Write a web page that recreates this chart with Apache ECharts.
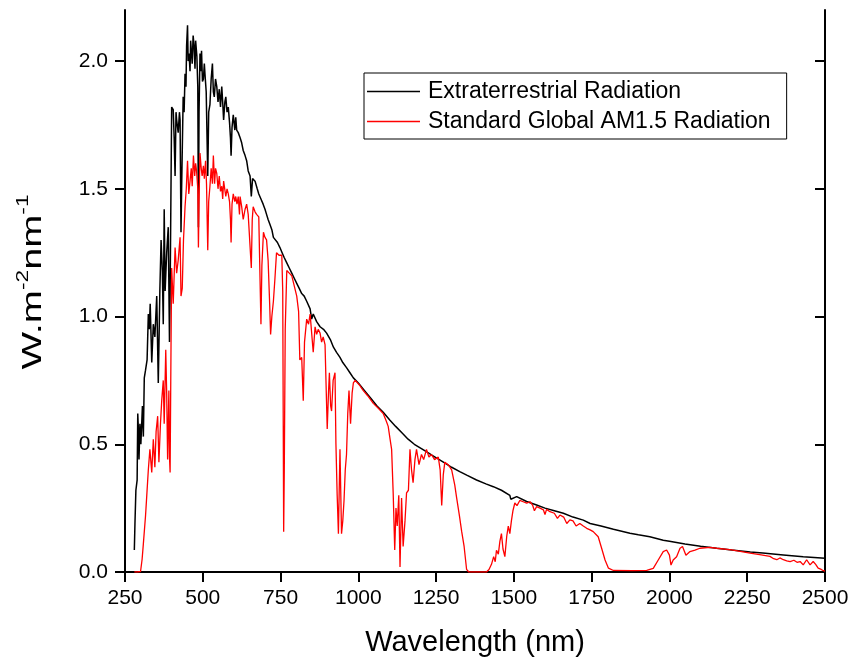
<!DOCTYPE html>
<html>
<head>
<meta charset="utf-8">
<script src="https://cdn.jsdelivr.net/npm/echarts@6/dist/echarts.min.js"></script>
<style>
html,body{margin:0;padding:0;background:#fff;}
#chart{width:855px;height:664px;}
</style>
</head>
<body>
<div id="chart"></div>
<script>
// ---- Data ----
const seriesNames = ['Extraterrestrial Radiation', 'Standard Global AM1.5 Radiation'];

const etrWavelength = [280,282,285,289,291,293,295,298,301,306,309,312,316,321,325,328,331,336,341,346,352,357,362,366,370,373,376,379,384,389,393,395,
400,405,408,411,414,416,421,425,427,430,432,437,440,443,446,448,451,453,456,459,461,466,469,472,475,477,481,484,486,488,491,494,496,499,
502,505,507,511,516,519,523,527,531,534,537,541,545,549,553,557,561,564,567,571,574,578,582,586,589,591,594,598,603,606,609,614,620,625,
630,636,641,646,652,656,660,668,675,680,687,694,700,705,710,716,722,727,732,740,748,755,762,770,778,786,794,802,810,818,826,834,845,850,
855,866,877,888,898,910,920,930,941,950,962,973,984,1000,1020,1040,1060,1080,1101,1120,1140,1160,1180,1200,1220,1240,1260,1280,1300,1326,
1350,1380,1410,1434,1460,1487,1490,1509,1541,1573,1600,1630,1659,1690,1723,1745,1780,1820,1873,1900,1937,1980,2000,2050,2100,2152,2200,
2260,2300,2366,2430,2500];
const etrValue = [0.086,0.19,0.32,0.36,0.62,0.56,0.44,0.58,0.50,0.65,0.53,0.76,0.79,0.83,1.01,0.95,1.05,0.82,0.97,0.92,1.08,0.74,1.10,1.30,1.18,0.97,1.42,1.10,1.25,1.35,0.90,1.09,
1.82,1.81,1.70,1.55,1.80,1.77,1.72,1.80,1.77,1.33,1.50,1.86,1.80,1.95,1.90,2.06,2.14,2.00,2.03,1.96,2.08,1.99,2.10,2.06,1.97,2.08,2.02,1.90,1.35,1.80,2.03,1.96,2.04,1.92,
1.93,1.99,1.95,1.88,1.55,1.80,1.83,1.93,1.99,1.88,1.86,1.93,1.90,1.84,1.89,1.82,1.90,1.84,1.77,1.84,1.86,1.80,1.82,1.76,1.70,1.63,1.74,1.79,1.73,1.78,1.73,1.72,1.70,1.68,
1.65,1.63,1.61,1.57,1.55,1.47,1.54,1.53,1.50,1.48,1.46,1.44,1.42,1.40,1.38,1.36,1.34,1.31,1.31,1.29,1.27,1.25,1.23,1.21,1.19,1.17,1.15,1.13,1.11,1.09,1.08,1.06,1.03,0.99,
1.01,0.98,0.96,0.95,0.935,0.91,0.88,0.86,0.84,0.82,0.80,0.78,0.76,0.74,0.71,0.68,0.65,0.625,0.595,0.57,0.545,0.52,0.50,0.485,0.47,0.455,0.44,0.425,0.41,0.393,
0.378,0.36,0.345,0.334,0.32,0.30,0.285,0.295,0.276,0.262,0.25,0.24,0.23,0.215,0.203,0.19,0.18,0.167,0.152,0.146,0.138,0.124,0.12,0.11,0.101,0.093,0.086,
0.078,0.074,0.067,0.06,0.054];

const am15Wavelength = [280,290,300,305,309,316,320,325,330,336,341,346,350,355,359,364,368,373,376,381,384,387,391,393,395,398,
400,405,411,416,421,427,430,434,438,443,447,451,455,459,463,466,470,474,477,480,484,486,488,491,495,498,502,505,509,512,516,519,523,527,531,534,538,541,545,549,
553,557,561,564,567,571,574,578,582,586,589,591,594,598,603,606,610,614,618,620,625,630,636,641,646,652,656,659,662,668,673,680,684,687,690,695,700,705,710,715,718,
722,727,732,737,745,754,757,760,762,765,770,778,786,794,802,808,812,818,823,827,834,840,845,850,855,861,866,871,877,882,887,893,900,904,907,911,914,919,925,928,932,
936,941,946,950,954,958,962,966,970,975,980,984,990,995,1005,1016,1030,1048,1065,1080,1090,1096,1102,1107,1112,1117,1121,1125,1130,1134,1139,1144,1150,1155,1161,
1166,1171,1176,1182,1187,1195,1203,1210,1219,1227,1235,1245,1257,1263,1268,1273,1278,1289,1300,1310,1316,1325,1332,1340,1348,1355,1412,1420,1428,1435,1440,1444,
1450,1455,1460,1465,1471,1477,1482,1487,1492,1497,1503,1510,1519,1530,1541,1552,1560,1566,1573,1584,1595,1600,1605,1616,1630,1640,1648,1660,1670,1680,1690,1700,
1712,1723,1734,1745,1755,1771,1782,1793,1804,1820,1880,1927,1948,1964,1980,1991,2000,2005,2012,2023,2034,2042,2053,2066,2082,2098,2130,2152,2200,2259,2290,2323,
2335,2345,2355,2366,2377,2388,2400,2410,2420,2430,2441,2452,2462,2470,2478,2488,2495,2500];
const am15Value = [0,0,0.002,0.05,0.11,0.22,0.30,0.40,0.48,0.39,0.52,0.41,0.55,0.61,0.43,0.58,0.67,0.75,0.58,0.87,0.70,0.44,0.71,0.45,0.39,0.90,
1.19,1.05,1.27,1.17,1.22,1.31,1.08,1.11,1.30,1.43,1.50,1.61,1.48,1.53,1.58,1.51,1.63,1.55,1.60,1.57,1.50,1.27,1.45,1.64,1.58,1.55,1.59,1.54,1.61,1.52,1.26,1.45,1.51,1.58,1.52,1.63,1.52,1.58,1.56,1.50,
1.55,1.49,1.51,1.46,1.53,1.53,1.47,1.50,1.48,1.45,1.38,1.29,1.44,1.48,1.45,1.47,1.44,1.47,1.40,1.47,1.43,1.38,1.42,1.44,1.40,1.40,1.19,1.38,1.43,1.41,1.40,1.39,1.39,0.97,1.20,1.33,1.31,1.30,1.22,1.05,0.93,
1.00,1.06,1.15,1.25,1.24,1.24,1.10,0.158,0.40,0.95,1.18,1.17,1.16,1.12,1.08,1.02,0.83,0.84,0.67,0.90,0.99,0.97,1.01,1.01,0.86,0.96,0.93,0.95,0.935,0.90,0.92,0.89,0.56,0.70,0.78,0.65,0.63,0.75,0.78,0.50,0.30,
0.15,0.48,0.15,0.20,0.28,0.40,0.46,0.62,0.71,0.58,0.70,0.74,0.75,0.75,0.73,0.71,0.69,0.66,0.64,0.62,0.59,0.57,0.52,0.48,0.31,0.086,0.25,0.18,0.30,0.02,0.29,0.10,0.20,0.31,0.32,
0.48,0.40,0.35,0.44,0.48,0.42,0.46,0.44,0.48,0.45,0.46,0.44,0.45,0.40,0.26,0.38,0.43,0.42,0.40,0.34,0.29,0.22,0.16,0.10,0.01,0.0,0.0,0.01,0.03,0.06,0.04,0.085,
0.07,0.12,0.15,0.09,0.06,0.14,0.18,0.15,0.20,0.24,0.27,0.26,0.28,0.275,0.27,0.275,0.262,0.24,0.256,0.25,0.243,0.225,0.245,0.236,0.23,0.21,0.223,0.215,0.19,0.204,0.20,0.18,
0.19,0.18,0.171,0.165,0.158,0.138,0.093,0.047,0.015,0.006,0.005,0.006,0.014,0.047,0.08,0.086,0.066,0.027,0.047,0.06,0.093,0.10,0.066,0.08,0.086,0.093,0.096,0.093,0.087,0.074,0.068,0.061,
0.052,0.048,0.055,0.048,0.044,0.041,0.046,0.038,0.041,0.028,0.048,0.028,0.041,0.03,0.015,0.01,0.005,0.003];

const xTickValues = [250,500,750,1000,1250,1500,1750,2000,2250,2500];
const yTickValues = [0,0.5,1.0,1.5,2.0];

// ---- Chart ----
const etrData = etrWavelength.map((w, i) => [w, etrValue[i]]);
const am15Data = am15Wavelength.map((w, i) => [w, am15Value[i]]);

const chart = echarts.init(document.getElementById('chart'), null, {renderer: 'canvas'});
const font = 'Arial, "Liberation Sans", sans-serif';
const axisLine = {show: true, lineStyle: {color: '#000', width: 2}};

chart.setOption({
  animation: false,
  backgroundColor: '#fff',
  textStyle: {fontFamily: font},
  grid: {left: 125, right: 30, top: 10, bottom: 92},
  legend: {
    left: 364, top: 73,
    orient: 'vertical',
    data: seriesNames,
    icon: 'rect',
    itemWidth: 53, itemHeight: 1.5,
    itemGap: 7,
    borderColor: '#000', borderWidth: 1, borderRadius: 0,
    padding: [7, 16, 6, 3],
    textStyle: {fontSize: 23, color: '#000', fontFamily: font, padding: [0, 0, 0, 3]}
  },
  graphic: [{
    type: 'text',
    x: 33, y: 282,
    rotation: Math.PI / 2,
    scaleX: 1.42, scaleY: 1,
    style: {
      text: '{a|W.m}{s|-2}{a|nm}{s|-1}',
      align: 'center', verticalAlign: 'middle',
      fill: '#000',
      rich: {
        a: {fontSize: 28, lineHeight: 34, fill: '#000', fontFamily: font},
        s: {fontSize: 16, lineHeight: 16, verticalAlign: 'top', fill: '#000', fontFamily: font}
      }
    }
  }],
  xAxis: [{
    type: 'value', min: 250, max: 2500, interval: 250,
    position: 'bottom',
    name: 'Wavelength (nm)', nameLocation: 'middle', nameGap: 56,
    nameTextStyle: {fontSize: 29, color: '#000', fontFamily: font},
    axisLine: axisLine,
    axisTick: {show: true, length: 10, inside: false, lineStyle: {color: '#000', width: 2}, customValues: xTickValues},
    axisLabel: {fontSize: 21, color: '#000', margin: 16, fontFamily: font, customValues: xTickValues,
      formatter: v => String(v)},
    splitLine: {show: false}
  }, {
    type: 'value', min: 250, max: 2500, interval: 250,
    position: 'top',
    axisLine: axisLine,
    axisTick: {show: true, length: 10, inside: true, lineStyle: {color: '#000', width: 2}, customValues: xTickValues},
    axisLabel: {show: false},
    splitLine: {show: false}
  }],
  yAxis: [{
    type: 'value', min: 0, max: 2.2, interval: 0.5,
    position: 'left',
    axisLine: axisLine,
    axisTick: {show: true, length: 10, inside: false, lineStyle: {color: '#000', width: 2}, customValues: yTickValues},
    axisLabel: {fontSize: 21, color: '#000', margin: 17, fontFamily: font, customValues: yTickValues,
      formatter: v => v.toFixed(1)},
    splitLine: {show: false}
  }, {
    type: 'value', min: 0, max: 2.2, interval: 0.5,
    position: 'right',
    axisLine: axisLine,
    axisTick: {show: true, length: 10, inside: true, lineStyle: {color: '#000', width: 2}, customValues: yTickValues},
    axisLabel: {show: false},
    splitLine: {show: false}
  }],
  series: [{
    name: seriesNames[0], type: 'line', data: etrData,
    xAxisIndex: 0, yAxisIndex: 0,
    showSymbol: false, symbol: 'none',
    lineStyle: {color: '#000', width: 1.5},
    itemStyle: {color: '#000'},
    z: 2
  }, {
    name: seriesNames[1], type: 'line', data: am15Data,
    xAxisIndex: 0, yAxisIndex: 0,
    showSymbol: false, symbol: 'none',
    lineStyle: {color: '#ff0000', width: 1.3},
    itemStyle: {color: '#ff0000'},
    z: 3
  }]
});
</script>
</body>
</html>
